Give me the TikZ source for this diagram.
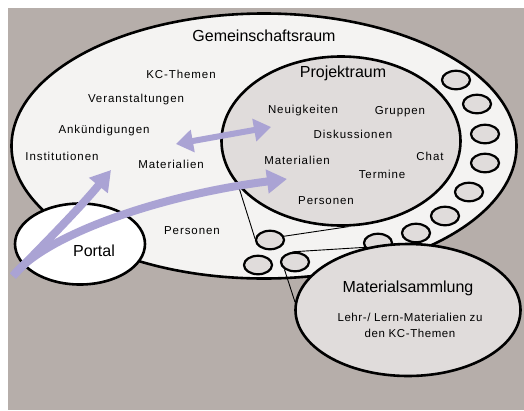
\documentclass[tikz,border=0pt]{standalone}
\usepackage{fontspec}
\setmainfont{Liberation Sans}
\usetikzlibrary{shapes.geometric,arrows.meta}
\definecolor{bggray}{RGB}{182,174,170}
\definecolor{outerfill}{RGB}{244,243,242}
\definecolor{innerfill}{RGB}{224,220,219}
\definecolor{lav}{RGB}{170,163,212}
\begin{document}
\begin{tikzpicture}[x=1pt,y=-1pt,
  room/.style={ellipse, draw=black, line width=2.6pt, inner sep=0pt},
  ringcirc/.style={ellipse, draw=black, line width=2.2pt, fill=innerfill, minimum width=28pt, minimum height=18.5pt, inner sep=0pt},
  bigtxt/.style={font=\fontsize{16}{18}\selectfont, inner sep=0pt},
  smalltxt/.style={font=\fontsize{11.5}{13}\selectfont\addfontfeature{LetterSpace=8}, inner sep=0pt},
  callout/.style={draw=black, line width=0.9pt},
  flow/.style={draw=lav, line width=8pt, -{Triangle[width=23pt,length=20pt]}},
  dflow/.style={draw=lav, line width=6pt, {Triangle[width=22pt,length=17pt]}-{Triangle[width=22pt,length=17pt]}},
]
\useasboundingbox (0,0) rectangle (524,410);
\fill[bggray] (8,8) rectangle (524,410);

% rooms
\node[room, fill=outerfill, minimum width=505pt, minimum height=265pt] (gem) at (264,146) {};
\node[room, fill=innerfill, minimum width=239pt, minimum height=169pt] (pro) at (341,141) {};

% ring of small circles
\node[ringcirc] (r1) at (456,80) {};
\node[ringcirc] (r2) at (477,104) {};
\node[ringcirc] (r3) at (485,134) {};
\node[ringcirc] (r4) at (485,163) {};
\node[ringcirc] (r5) at (469,192) {};
\node[ringcirc] (r6) at (445,216) {};
\node[ringcirc] (r7) at (416,233) {};
\node[ringcirc] (r8) at (378,243) {};
\node[ringcirc] (cA) at (270,240) {};
\node[ringcirc] (cB) at (258,265) {};
\node[ringcirc] (cC) at (295,262) {};

% portal and material collection
\node[room, fill=white, minimum width=130pt, minimum height=81pt] (portal) at (80,244) {};
\node[room, fill=innerfill, minimum width=225pt, minimum height=132pt] (mat) at (408,310) {};

% callout lines
\draw[callout] (pro.204) -- (cA.175);
\draw[callout] (cA.15) -- (pro.275);
\draw[callout] (cC.105) -- (mat.123);
\draw[callout] (cC.215) -- (mat.176);

% texts
\node[bigtxt] (tgem) at (264,36) {Gemeinschaftsraum};
\node[bigtxt] (tpro) at (343,73) {Projektraum};
\node[bigtxt] (tportal) at (94,251) {Portal};
\node[bigtxt] (tmat) at (408,288) {Materialsammlung};
\node[smalltxt, align=center, font=\fontsize{11.5}{16}\selectfont\addfontfeature{LetterSpace=5}] (tmatdesc) at (410,325) {Lehr-/ Lern-Materialien zu\\den KC-Themen};

\node[smalltxt] (kc) at (181,74) {KC-Themen};
\node[smalltxt] (ver) at (136,100) {Veranstaltungen};
\node[smalltxt] (ank) at (104,131) {Ankündigungen};
\node[smalltxt] (ins) at (62,156) {Institutionen};
\node[smalltxt] (mato) at (171,164) {Materialien};
\node[smalltxt] (pero) at (192,231) {Personen};

\node[smalltxt] (neu) at (303,111) {Neuigkeiten};
\node[smalltxt] (gru) at (400,112) {Gruppen};
\node[smalltxt] (dis) at (353,134) {Diskussionen};
\node[smalltxt] (mati) at (297,160) {Materialien};
\node[smalltxt] (cha) at (430,156) {Chat};
\node[smalltxt] (ter) at (382,174) {Termine};
\node[smalltxt] (peri) at (326,201) {Personen};

% flows
\coordinate (src) at (13,276);
\coordinate (tip1) at (111,170);
\coordinate (tip2) at (287,179);
\coordinate (dl) at (176,144);
\coordinate (dr) at (271,127);
\draw[flow] (src) .. controls (40,248) and (80,208) .. (tip1);
\draw[flow] (src) .. controls (45,235) and (160,195) .. (tip2);
\draw[dflow] (dl) -- (dr);
\end{tikzpicture}
\end{document}
